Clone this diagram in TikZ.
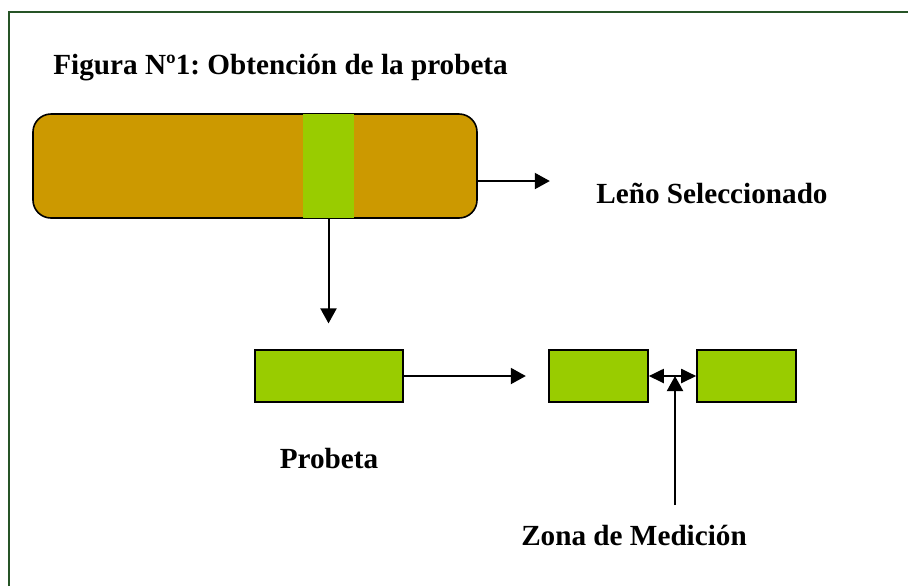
\documentclass[tikz,border=0pt]{standalone}
\usepackage{fontspec}
\setmainfont{Liberation Serif}
\usetikzlibrary{arrows.meta, positioning, calc}

\definecolor{marco}{RGB}{38,84,38}
\definecolor{madera}{RGB}{204,153,0}
\definecolor{verde}{RGB}{153,204,0}

\tikzset{
    caja/.style={draw=black, line width=0.8pt, fill=verde, inner sep=0pt},
    flecha/.style={line width=1pt, -{Triangle[length=7.5pt, width=8pt]}},
    texto/.style={font=\fontsize{14.6}{17}\selectfont\bfseries\frenchspacing, inner sep=0pt}
}

\begin{document}
\begin{tikzpicture}[x=0.5pt, y=-0.5pt]
        \useasboundingbox (0,0) rectangle (908,586);

        % Frame (open to the right and bottom)
        \draw[marco, line width=1.2pt] (9,586) -- (9,12) -- (908,12);

        % Title
        \node[texto, anchor=base west] (titulo) at (53,74) {Figura Nº1: Obtención de la probeta};

        % Selected log with the cut band
        \node[draw=black, line width=0.8pt, fill=madera, rounded corners=9pt,
              minimum width=222pt, minimum height=52pt, inner sep=0pt] (leno) at (255,166) {};
        \node[fill=verde, minimum width=25.5pt, minimum height=52pt, inner sep=0pt] (franja) at (328.5,166) {};
        \node[texto, anchor=base west] (lenoLbl) at (596,203) {Leño Seleccionado};

        % Test piece
        \node[caja, minimum width=74pt, minimum height=26pt] (probeta) at (329,376) {};
        \node[texto, anchor=base] (probetaLbl) at (329,468) {Probeta};

        % Cut test piece
        \node[caja, minimum width=49.5pt, minimum height=26pt] (medA) at (598.5,376) {};
        \node[caja, minimum width=49.5pt, minimum height=26pt] (medB) at (746.5,376) {};
        \node[texto, anchor=base] (zonaLbl) at (634,545) {Zona de Medición};
        \coordinate (zona) at (675,505);
        \coordinate (corte) at ($(medA.east)!0.5!(medB.west)$);

        % Connectors
        \draw[flecha] ([yshift=-7.5pt]leno.east) -- ++(72,0);
        \draw[flecha] (franja.south) -- ++(0,105);
        \draw[flecha] (probeta.east) -- ++(122,0);
        \draw[line width=1pt, {Triangle[length=7.5pt, width=7pt]}-{Triangle[length=7.5pt, width=7pt]}]
            (medA.east) -- (medB.west);
        \draw[flecha] (zona) -- (zona |- corte);
    \end{tikzpicture}
\end{document}
